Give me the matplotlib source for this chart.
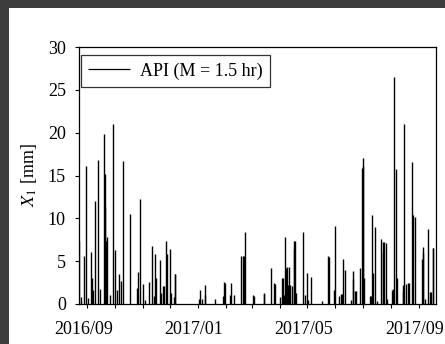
import matplotlib
matplotlib.use("Agg")
import matplotlib.pyplot as plt
import matplotlib.dates as mdates
import matplotlib.patches as mpatches
import matplotlib.transforms as mtransforms
import numpy as np
import pandas as pd

# Event dates and API peak values (mm)
dates = [
    "2016-08-23", "2016-08-25", "2016-08-28", "2016-08-31", "2016-09-02", "2016-09-05",
    "2016-09-06", "2016-09-07", "2016-09-09", "2016-09-13", "2016-09-15", "2016-09-19",
    "2016-09-20", "2016-09-21", "2016-09-22", "2016-09-23", "2016-09-26", "2016-09-29",
    "2016-10-01", "2016-10-04", "2016-10-06", "2016-10-08", "2016-10-10", "2016-10-18",
    "2016-10-26", "2016-10-27", "2016-10-29", "2016-11-01", "2016-11-04", "2016-11-08",
    "2016-11-11", "2016-11-13", "2016-11-15", "2016-11-16", "2016-11-20", "2016-11-21",
    "2016-11-23", "2016-11-24", "2016-11-27", "2016-11-28", "2016-12-01", "2016-12-02",
    "2016-12-05", "2016-12-06", "2016-12-07",
    "2017-01-02", "2017-01-03", "2017-01-05", "2017-01-08", "2017-01-09", "2017-01-20",
    "2017-01-28", "2017-01-30", "2017-01-31", "2017-02-05", "2017-02-06", "2017-02-09",
    "2017-02-17", "2017-02-19", "2017-02-20", "2017-02-22", "2017-03-02", "2017-03-03",
    "2017-03-14", "2017-03-15", "2017-03-22", "2017-03-26", "2017-03-27", "2017-04-01",
    "2017-04-03", "2017-04-04", "2017-04-06", "2017-04-07", "2017-04-08", "2017-04-09",
    "2017-04-10", "2017-04-11", "2017-04-12", "2017-04-14", "2017-04-16", "2017-04-17",
    "2017-04-18", "2017-04-19", "2017-04-26", "2017-04-29", "2017-05-01", "2017-05-02",
    "2017-05-05", "2017-05-17", "2017-05-24", "2017-05-25", "2017-05-31", "2017-06-01",
    "2017-06-05", "2017-06-07", "2017-06-08", "2017-06-09", "2017-06-12", "2017-06-18",
    "2017-06-20", "2017-06-21", "2017-06-23", "2017-06-24", "2017-06-28", "2017-06-30",
    "2017-07-01", "2017-07-02", "2017-07-03", "2017-07-09", "2017-07-10", "2017-07-11",
    "2017-07-13", "2017-07-15", "2017-07-17", "2017-07-21", "2017-07-23", "2017-07-24",
    "2017-07-25", "2017-07-27", "2017-07-28", "2017-08-02", "2017-08-04", "2017-08-05",
    "2017-08-07", "2017-08-08", "2017-08-14", "2017-08-15", "2017-08-16", "2017-08-18",
    "2017-08-20", "2017-08-21", "2017-08-24", "2017-08-25", "2017-08-28", "2017-09-04",
    "2017-09-05", "2017-09-06", "2017-09-08", "2017-09-11", "2017-09-13", "2017-09-14",
    "2017-09-16", "2017-09-17",
]
values = [
    7.3, 0.8, 5.6, 16.1, 0.7, 6.1,
    3.0, 1.6, 12.0, 16.8, 1.8, 19.8,
    11.3, 15.2, 7.3, 7.8, 1.0, 21.0,
    6.3, 1.6, 3.5, 2.7, 16.7, 10.5,
    1.9, 3.7, 12.2, 2.3, 0.5, 2.6,
    6.8, 0.9, 5.8, 3.0, 5.1, 1.3,
    2.1, 2.1, 7.4, 5.8, 6.4, 1.3,
    0.8, 3.5, 3.5,
    0.6, 1.6, 0.6, 2.2, 1.0, 0.6,
    0.9, 2.6, 2.5, 1.1, 2.45, 1.0,
    5.6, 5.6, 5.6, 8.4, 1.05, 0.9,
    1.2, 1.3, 4.2, 2.45, 2.3, 0.8,
    3.0, 3.0, 1.0, 7.8, 4.2, 4.3,
    2.2, 4.3, 2.2, 2.1, 6.45, 7.35,
    7.4, 1.3, 8.4, 1.1, 3.6, 0.5,
    3.1, 0.3, 5.6, 5.5, 1.6, 9.1,
    0.9, 1.2, 1.2, 5.2, 4.0, 0.5,
    3.85, 2.9, 1.55, 1.5, 4.2, 15.9,
    16.1, 17.0, 3.0, 0.9, 0.9, 10.4,
    3.6, 9.0, 0.3, 7.6, 7.2, 6.0,
    7.2, 7.1, 0.6, 1.6, 1.7, 26.5,
    15.8, 3.0, 1.5, 2.2, 21.0, 2.3,
    2.5, 2.5, 16.6, 10.4, 10.2, 5.3,
    6.7, 6.0, 0.6, 8.7, 1.4, 1.4,
    6.5, 6.5,
]

series_label = "API (M = 1.5 hr)"
y_ticks = [0, 5, 10, 15, 20, 25, 30]

plt.rcParams["font.family"] = ["Liberation Serif", "DejaVu Serif"]
plt.rcParams["mathtext.fontset"] = "stix"

fig = plt.figure(figsize=(4.45, 3.44), dpi=100, facecolor="#3c3c3c")
bg = mpatches.Rectangle((9 / 445, 0), 1, 1 - 8 / 344, transform=fig.transFigure,
                        facecolor="white", edgecolor="none", zorder=-10)
fig.patches.append(bg)

ax = fig.add_axes([79 / 445, 1 - 304 / 344, 357 / 445, 257 / 344])
ax.set_zorder(5)
ax.set_facecolor("white")

d = pd.to_datetime(dates)
ax.vlines(d, 0, values, colors="black", linewidth=1.0, label=series_label)

ax.set_xlim(pd.Timestamp("2016-08-22 20:00"), pd.Timestamp("2017-09-19 20:00"))
ax.set_ylim(0, 30)
ax.set_yticks(y_ticks)

ax.xaxis.set_major_locator(mdates.MonthLocator(bymonth=[1, 5, 9]))
ax.xaxis.set_minor_locator(mdates.MonthLocator())
ax.xaxis.set_major_formatter(mdates.DateFormatter("%Y/%m"))

ax.tick_params(axis="both", which="both", direction="out", length=3, width=0.8,
               labelsize=13, color="black")
ax.tick_params(axis="x", which="both", pad=9)
ax.tick_params(axis="y", pad=6.5)

shift = mtransforms.ScaledTranslation(-4 / 100, 0, fig.dpi_scale_trans)
for lbl in ax.get_xticklabels():
    lbl.set_transform(lbl.get_transform() + shift)

for s in ax.spines.values():
    s.set_linewidth(0.9)
    s.set_color("black")

ax.set_ylabel("$X_1$ [mm]", fontsize=13)
ax.yaxis.set_label_coords(-0.113, 0.5)

leg = ax.legend(loc="upper left", bbox_to_anchor=(0.0056, 0.969), borderaxespad=0,
                fancybox=False, edgecolor="#333333", framealpha=1, fontsize=13,
                handlelength=2.3, handletextpad=0.55, borderpad=0.4)
leg.get_frame().set_linewidth(0.9)
leg.legend_handles[0].set_linewidth(0.9)

fig.savefig("out.png", dpi=100, facecolor=fig.get_facecolor())
